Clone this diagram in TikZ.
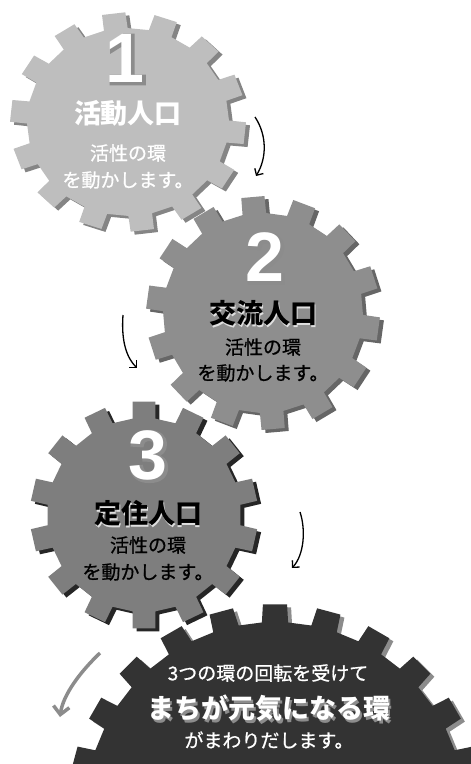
\documentclass[tikz,border=0pt]{standalone}
\usepackage{fontspec}
\setmainfont{Noto Sans CJK JP}
\newfontfamily\subfont[FakeBold=0.8]{Noto Sans CJK JP}
\newfontfamily\digitfont{Liberation Sans}
\newfontfamily\rimfont[FakeBold=5]{Liberation Sans}
\usetikzlibrary{arrows.meta}
\definecolor{gearone}{HTML}{BEBEBE}
\definecolor{geartwo}{HTML}{8E8E8E}
\definecolor{gearthree}{HTML}{7E7E7E}
\definecolor{gearfour}{HTML}{333333}
\tikzstyle{every node}+=[inner sep=0pt]
\tikzstyle{head} = [font=\bfseries\fontsize{27}{27}\selectfont]
\tikzstyle{sub} = [font=\subfont\fontsize{19}{19}\selectfont]
\tikzstyle{num} = [font=\digitfont\bfseries\fontsize{70}{70}\selectfont]
\tikzstyle{rim} = [font=\rimfont\bfseries\fontsize{70}{70}\selectfont, text=black!45]
\tikzstyle{line} = [draw, black, line width=1.3pt, -{Straight Barb[length=5pt,width=10pt]}]
\tikzstyle{grayline} = [draw, black!45, line width=3.5pt, -{Straight Barb[length=8pt,width=16pt]}]
% cog: x, y, inner radius, outer radius, teeth, rotation, style
\newcommand{\cogwheel}[7]{%
  \fill[shift={(#1,#2)}, #7] ({#6-95/#5}:#3)
  \foreach \k in {1,...,#5} {
    -- ({#6+(\k-1)*360/#5-80/#5}:#4) -- ({#6+(\k-1)*360/#5+80/#5}:#4)
    -- ({#6+(\k-1)*360/#5+95/#5}:#3) -- ({#6+\k*360/#5-95/#5}:#3)
  } -- cycle;}
% digit with grey rim
\newcommand{\gearnum}[3]{%
  \node[rim] at (#1+1.5,#2+1.5) {#3};
  \node[num, text=white] (#3num) at (#1,#2) {#3};}
\begin{document}
\begin{tikzpicture}[x=1pt, y=-1pt]
\useasboundingbox (0,0) rectangle (471,764);
% Gears, back to front
\cogwheel{279}{815}{190}{208}{24}{-90}{black!45}
\cogwheel{275}{812}{190}{208}{24}{-90}{gearfour}
\cogwheel{132}{125}{101}{118}{14}{-97}{black!48, yscale=0.93}
\cogwheel{128}{122}{101}{118}{14}{-97}{gearone, yscale=0.93}
\cogwheel{267}{316}{100}{117}{14}{-95}{black!60}
\cogwheel{263}{313}{100}{117}{14}{-95}{geartwo}
\cogwheel{148}{518}{97}{114}{14}{-90}{black!85}
\cogwheel{144}{515}{97}{114}{14}{-90}{gearthree}
% Gear 1
\gearnum{125}{58}{1}
\node[head, text=white] (h1) at (128,113) {活動人口};
\node[sub, text=white] (s1) at (128,153) {活性の環};
\node[sub, text=white] (t1) at (128,180) {を動かします。};
% Gear 2
\gearnum{265}{257}{2}
\node[head, text=white!75!gray] at (264,315) {交流人口};
\node[head] (h2) at (263,313) {交流人口};
\node[sub] (s2) at (263,347) {活性の環};
\node[sub] (t2) at (263,373) {を動かします。};
% Gear 3
\gearnum{148}{455}{3}
\node[head, text=white!75!gray] at (149,515) {定住人口};
\node[head] (h3) at (148,513) {定住人口};
\node[sub] (s3) at (148,545) {活性の環};
\node[sub] (t3) at (148,572) {を動かします。};
% Gear 4
\node[sub, text=white] (s4) at (268,673) {3つの環の回転を受けて};
\node[head, text=black!45] at (271,711) {まちが元気になる環};
\node[head, text=white] (h4) at (269,708) {まちが元気になる環};
\node[sub, text=white] (t4) at (269,740) {がまわりだします。};
% Arrows
\coordinate (a1) at (255,117);
\coordinate (b1) at (256,176);
\coordinate (a2) at (123,315);
\coordinate (b2) at (137,368);
\coordinate (a3) at (300,512);
\coordinate (b3) at (292,568);
\coordinate (a4) at (100,653);
\coordinate (b4) at (60,717);
\path [line] (a1) .. controls (267,135) and (267,158) .. (b1);
\path [line] (a2) .. controls (121,342) and (127,358) .. (b2);
\path [line] (a3) .. controls (306,530) and (304,555) .. (b3);
\path [grayline] (a4) .. controls (80,672) and (63,695) .. (b4);
\end{tikzpicture}
\end{document}
